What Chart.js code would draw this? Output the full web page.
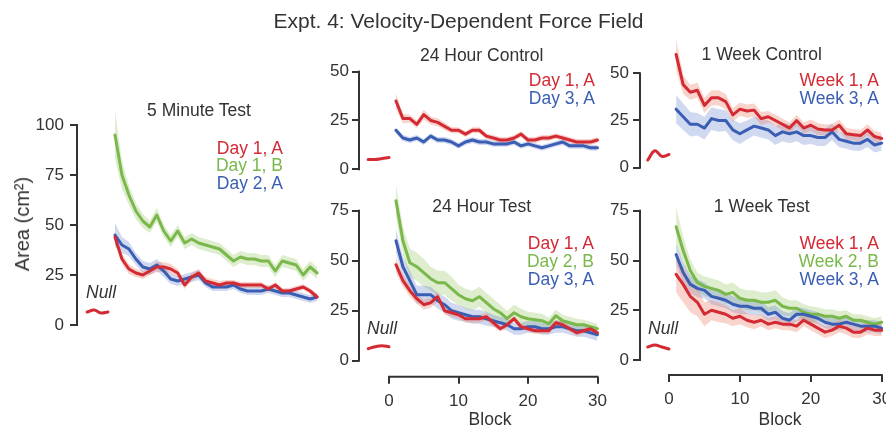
<!DOCTYPE html>
<html><head><meta charset="utf-8">
<script src="https://cdn.jsdelivr.net/npm/chart.js@4.4.1/dist/chart.umd.min.js"></script>
<style>
html,body{margin:0;padding:0;background:#fff;}
#wrap{position:relative;width:886px;height:433px;overflow:hidden;font-family:"Liberation Sans",Arial,Helvetica,sans-serif;color:#333;background:#fff;}
canvas{position:absolute;left:0;top:0;}
.t{position:absolute;white-space:nowrap;line-height:1;}
</style></head><body><div id="wrap"></div>
<script>
// ---------- data ----------
const blocks = [1,2,3,4,5,6,7,8,9,10,11,12,13,14,15,16,17,18,19,20,21,22,23,24,25,26,27,28,29,30];
const nullBlocks = [-3,-2,-1,0];
const xTicks = [0,10,20,30];
const yTicks100 = [0,25,50,75,100];
const yTicks50 = [0,25,50];
const yTicks75 = [0,25,50,75];

// 5 Minute Test
const fiveMinDay1A = [44,33,28,26,25,27,29,29,28,26,20,24,26,22,21,20,21,21,20,20,20,20,18,20,17,17,18,19,17,14];
const fiveMinDay1B = [95,75,65,57,52,49,55,47,42,47,41,43,41,40,39,38,35,32,34,33,33,32,32,27,32,31,30,25,29,26];
const fiveMinDay2A = [45,40,38,33,29,28,30,27,23,22,23,24,25,21,19,19,19,20,18,17,17,17,18,17,16,16,15,14,13,14];
const fiveMinNull = [6.5,7.5,6,6.5];
const sem5Day1A = [3,2.5,2.5,2,2,2,2.5,2.5,2.5,2,2,2,2,2,2,2,1.5,1.5,1.5,1.5,1.5,1.5,1.5,1.5,1.5,1.5,1.5,1.5,1.5,1.5];
const sem5Day1B = [12,7,5,4,3.5,3,3.5,3,3,3,3,3,3,3,3,3,3,3,3,3,3,3,3,3,3,3,3,3,3,3];
const sem5Day2A = [6,4,3.5,3,3,3,3,3,2.5,2.5,2.5,2.5,2.5,2,2,2,2,2,2,2,2,2,2,2,2,2,2,2,2,2];

// 24 Hour Control
const ctl24Day1A = [35,26,26,23,28,25,24,22,20,20,18,20,20,17,16,15,15,16,18,15,15,16,16,17,16,15,14,14,14,15];
const ctl24Day3A = [20,16,15,16,14,17,15,15,14,12,14,15,14,14,13,13,13,14,12,13,12,11,12,13,14,12,12,12,11,11];
const ctl24Null = [5,5,5.5,6];
const semCtl24Day1A = [4,2.5,2,2,2.5,2,2,2,1.5,1.5,1.5,1.5,1.5,1.5,1.5,1.5,1.5,1.5,1.5,1.5,1.5,1.5,1.5,1.5,1.5,1.5,1.5,1.5,1.5,1.5];
const semCtl24Day3A = [1.5,1.5,1.5,1.5,1.5,1.5,1.5,1.5,1.5,1.5,1.5,1.5,1.5,1.5,1.5,1.5,1.5,1.5,1.5,1.5,1.5,1.5,1.5,1.5,1.5,1.5,1.5,1.5,1.5,1.5];

// 24 Hour Test
const test24Day1A = [48,40,35,31,28,29,32,25,24,23,21,21,21,22,19,16,18,21,17,16,15,15,15,19,18,16,14,15,16,14];
const test24Day2B = [80,60,49,47,44,41,39,39,36,33,31,30,32,29,26,24,21,24,22,21,20.5,20,18.5,22.5,20,19,18,18,17,16];
const test24Day3A = [60,47,40,33,33,33,30,28,25,24,23,22,22,21,20,19,18,16,16,17,17,16,16,17,17,16,15,15,14,13];
const test24Null = [6,7,7.5,7];
const semTest24Day1A = [4,3,3,2.5,2.5,2.5,2.5,2,2,2,2,2,2,2,2,1.5,1.5,1.5,1.5,1.5,1.5,1.5,1.5,1.5,1.5,1.5,1.5,1.5,1.5,1.5];
const semTest24Day2B = [8,7,7,7,7,6,6,6,6,5,5,5,5,5,5,4,4,4,4,3.5,3.5,3.5,3,3,3,3,3,2.5,2.5,2.5];
const semTest24Day3A = [6,5,5,4.5,4.5,4,4,4,4,4,3.5,3.5,3.5,3.5,3,3,3,3,3,3,3,3,3,3,3,3,3,3,3,3];

// 1 Week Control
const ctlWkWeek1A = [60,44,40,41,33,37,37,35,28,31,30,30.5,26,27,25,23,21,25,21,22.5,20.5,20,20,22.5,18,17.5,17,20,16.5,15.5];
const ctlWkWeek3A = [31,27,23,23,21,26,25,25,20,18,20,22,21,20,17,19,18,19,17,17,16,16,19,15,14,13,13,15,12,13];
const ctlWkNull = [4,9,6,7];
const semCtlWkWeek1A = [8,5,4,4,4,4,4,4,3.5,3.5,3.5,3.5,3.5,3,3,3,3,3,3,3,3,3,3,3,3,3,3,3,3,3];
const semCtlWkWeek3A = [7.5,7,6.5,6,6,6,6,5.5,5.5,5.5,5,5,5,5,5,5,5,5,5,4.5,4.5,4.5,4.5,4,4,4,4,4,4,4];

// 1 Week Test
const testWkWeek1A = [43,38,32,29,23,25,24,23,21,22,20,19,20,18,19,18,18,17,20,18,16,14,15,17,16,14,14,16,15,15];
const testWkWeek2B = [67,55,45,39,37,36,35,33,34,31,30,30,29,29,30,27,26,26,24,23,23,22,22,21,22,20,20,19,18,19];
const testWkWeek3A = [53,44,38,36,35,32,31,30,28,27,27,26,26,23,24,21,20,23,23,22,21,19,18,18,19,18,17,17,17,16];
const testWkNull = [6.5,7.5,6.5,5.5];
const semTestWkWeek1A = [9,9,8,7,6,5,5,4.5,4,4,3.5,3.5,3,3,3,3,3,3,3,3,3,3,3,3,3,3,3,3,3,3];
const semTestWkWeek2B = [10,7,5.5,5,5,5,5,5,5,5,5,5,5,5,5,4.5,4,4,4,4,3.5,3.5,3.5,3.5,3,3,3,3,3,3];
const semTestWkWeek3A = [5,5,4.5,4.5,4,4,4,4,4,4,4,3.5,3.5,3.5,3.5,3.5,3.5,3.5,3,3,3,3,3,3,3,3,3,3,3,3];

// ---------- styles ----------
const FONT = '"Liberation Sans", Arial, Helvetica, sans-serif';
const TXT = '#333333';
const RED = '#d42a34', GREEN = '#7ab84b', BLUE = '#3a5eb3';
const RED_BAND = 'rgba(232,120,95,0.32)', GREEN_BAND = 'rgba(150,200,100,0.32)', BLUE_BAND = 'rgba(90,120,205,0.28)';

const panels = [
  { title:'5 Minute Test', tx:199, ty:110.5, lr:283, ly:148.5, ls:17.4,
    x0:108, bpx:6.97, xMin:-4.45, xMax:30.5, y0:325, upx:2, yMin:-2, yMax:108,
    yTicks:yTicks100, xAxis:false, tickPad:6, nullVals:fiveMinNull, nullLabel:[86,293],
    series:[
      {label:'Day 1, A', values:fiveMinDay1A, sem:sem5Day1A, color:RED, band:RED_BAND, order:0},
      {label:'Day 1, B', values:fiveMinDay1B, sem:sem5Day1B, color:GREEN, band:GREEN_BAND, order:2},
      {label:'Day 2, A', values:fiveMinDay2A, sem:sem5Day2A, color:BLUE, band:BLUE_BAND, order:1}]},
  { title:'24 Hour Control', tx:481.7, ty:55.3, lr:595, ly:80.8, ls:18,
    x0:389, bpx:6.95, xMin:-4.32, xMax:30.5, y0:169.3, upx:1.953, yMin:-2, yMax:50.5,
    yTicks:yTicks50, xAxis:false, tickPad:3, nullVals:ctl24Null, nullLabel:null,
    series:[
      {label:'Day 1, A', values:ctl24Day1A, sem:semCtl24Day1A, color:RED, band:RED_BAND, order:0},
      {label:'Day 3, A', values:ctl24Day3A, sem:semCtl24Day3A, color:BLUE, band:BLUE_BAND, order:1}]},
  { title:'24 Hour Test', tx:481.7, ty:206.7, lr:594, ly:244, ls:17.7,
    x0:389, bpx:6.95, xMin:-4.32, xMax:30.5, y0:360.7, upx:2, yMin:-8, yMax:90,
    yTicks:yTicks75, xAxis:true, tickPad:3, nullVals:test24Null, nullLabel:[367,328.3], blockX:490,
    series:[
      {label:'Day 1, A', values:test24Day1A, sem:semTest24Day1A, color:RED, band:RED_BAND, order:0},
      {label:'Day 2, B', values:test24Day2B, sem:semTest24Day2B, color:GREEN, band:GREEN_BAND, order:2},
      {label:'Day 3, A', values:test24Day3A, sem:semTest24Day3A, color:BLUE, band:BLUE_BAND, order:1}]},
  { title:'1 Week Control', tx:761.7, ty:55, lr:879, ly:80.8, ls:17.5,
    x0:669, bpx:7.09, xMin:-4.09, xMax:30.6, y0:167.7, upx:1.888, yMin:-2, yMax:68,
    yTicks:yTicks50, xAxis:false, tickPad:4, nullVals:ctlWkNull, nullLabel:null,
    series:[
      {label:'Week 1, A', values:ctlWkWeek1A, sem:semCtlWkWeek1A, color:RED, band:RED_BAND, order:0},
      {label:'Week 3, A', values:ctlWkWeek3A, sem:semCtlWkWeek3A, color:BLUE, band:BLUE_BAND, order:1}]},
  { title:'1 Week Test', tx:761.7, ty:206.7, lr:879, ly:244, ls:17.7,
    x0:669, bpx:7.09, xMin:-4.09, xMax:30.6, y0:360, upx:1.99, yMin:-7.54, yMax:80,
    yTicks:yTicks75, xAxis:true, tickPad:4, nullVals:testWkNull, nullLabel:[648,328.7], blockX:780,
    series:[
      {label:'Week 1, A', values:testWkWeek1A, sem:semTestWkWeek1A, color:RED, band:RED_BAND, order:0},
      {label:'Week 2, B', values:testWkWeek2B, sem:semTestWkWeek2B, color:GREEN, band:GREEN_BAND, order:2},
      {label:'Week 3, A', values:testWkWeek3A, sem:semTestWkWeek3A, color:BLUE, band:BLUE_BAND, order:1}]}
];

const wrap = document.getElementById('wrap');

function addText(str, x, y, size, opts) {
  opts = opts || {};
  const d = document.createElement('div');
  d.className = 't';
  d.textContent = str;
  d.style.fontSize = size + 'px';
  d.style.color = opts.color || TXT;
  if (opts.italic) d.style.fontStyle = 'italic';
  d.style.top = (y - 0.4885 * size) + 'px';
  const a = opts.anchor || 'left';
  if (a === 'left') d.style.left = x + 'px';
  else if (a === 'right') d.style.right = (886 - x) + 'px';
  else { d.style.left = x + 'px'; d.style.transform = 'translateX(-50%)'; }
  wrap.appendChild(d);
  return d;
}

const axisLines = {
  id: 'axisLines',
  afterDraw(chart) {
    const ctx = chart.ctx, ca = chart.chartArea, x = chart.scales.x, y = chart.scales.y;
    ctx.save();
    ctx.strokeStyle = TXT; ctx.lineWidth = 2;
    const yt = y.ticks;
    const ya = y.getPixelForValue(yt[0].value), yb = y.getPixelForValue(yt[yt.length - 1].value);
    ctx.beginPath(); ctx.moveTo(ca.left, ya + 1); ctx.lineTo(ca.left, yb - 1); ctx.stroke();
    if (x.options.display) {
      const xt = x.ticks;
      const xa = x.getPixelForValue(xt[0].value), xb = x.getPixelForValue(xt[xt.length - 1].value);
      ctx.beginPath(); ctx.moveTo(xa - 1, ca.bottom); ctx.lineTo(xb + 1, ca.bottom); ctx.stroke();
    }
    ctx.restore();
  }
};

function buildPanel(p) {
  const cv = document.createElement('canvas');
  cv.width = 886; cv.height = 433;
  wrap.appendChild(cv);
  const L = p.x0 + p.xMin * p.bpx, R = p.x0 + p.xMax * p.bpx;
  const T = p.y0 - p.yMax * p.upx, B = p.y0 - p.yMin * p.upx;
  const ds = [];
  p.series.forEach(s => ds.push({
    label: s.label, data: blocks.map((b, i) => ({x: b, y: s.values[i]})),
    borderColor: s.color, borderWidth: 3, pointRadius: 0, fill: false, tension: 0,
    borderJoinStyle: 'round', borderCapStyle: 'round', order: s.order
  }));
  ds.push({
    label: 'Null', data: nullBlocks.map((b, i) => ({x: b, y: p.nullVals[i]})),
    borderColor: RED, borderWidth: 3, pointRadius: 0, fill: false, tension: 0.4,
    borderJoinStyle: 'round', borderCapStyle: 'round', order: 0
  });
  p.series.forEach(s => {
    ds.push({
      data: blocks.map((b, i) => ({x: b, y: s.values[i] + s.sem[i]})),
      borderColor: 'rgba(0,0,0,0)', borderWidth: 0, pointRadius: 0,
      backgroundColor: s.band, fill: '+1', order: 10 + s.order
    });
    ds.push({
      data: blocks.map((b, i) => ({x: b, y: s.values[i] - s.sem[i]})),
      borderColor: 'rgba(0,0,0,0)', borderWidth: 0, pointRadius: 0,
      fill: false, order: 10 + s.order
    });
  });
  const gridOpt = {drawOnChartArea: false, drawTicks: true, tickLength: 7, color: TXT, lineWidth: 2};
  new Chart(cv, {
    type: 'line',
    data: {datasets: ds},
    options: {
      responsive: false, animation: false, devicePixelRatio: 1, events: [],
      layout: {autoPadding: false, padding: {left: 0, top: T, right: 886 - R, bottom: p.xAxis ? 0 : 433 - B}},
      plugins: {legend: {display: false}, tooltip: {enabled: false}, title: {display: false}},
      scales: {
        x: {
          type: 'linear', min: p.xMin, max: p.xMax, display: p.xAxis, position: 'bottom',
          afterBuildTicks: s => { s.ticks = xTicks.map(v => ({value: v})); },
          afterFit: s => { if (p.xAxis) s.height = 433 - B; else s.height = 0; s.paddingLeft = 0; s.paddingRight = 0; },
          grid: gridOpt, border: {display: false},
          ticks: {color: TXT, font: {family: FONT, size: 17}, padding: 7, maxRotation: 0, minRotation: 0, autoSkip: false}
        },
        y: {
          type: 'linear', min: p.yMin, max: p.yMax,
          afterBuildTicks: s => { s.ticks = p.yTicks.map(v => ({value: v})); },
          afterFit: s => { s.width = L; s.paddingTop = 0; s.paddingBottom = 0; },
          grid: gridOpt, border: {display: false},
          ticks: {color: TXT, font: {family: FONT, size: 17}, padding: p.tickPad, autoSkip: false}
        }
      }
    },
    plugins: [axisLines]
  });
}

panels.forEach(buildPanel);

// ---------- texts ----------
addText('Expt. 4: Velocity-Dependent Force Field', 458.5, 20, 21, {anchor: 'center'});
panels.forEach(p => {
  addText(p.title, p.tx, p.ty, 17.5, {anchor: 'center'});
  p.series.forEach((s, i) => addText(s.label, p.lr, p.ly + i * p.ls, 17.5, {anchor: 'right', color: s.color}));
  if (p.nullLabel) addText('Null', p.nullLabel[0], p.nullLabel[1], 17.5, {italic: true});
  if (p.xAxis) addText('Block', p.blockX, 420, 17.5, {anchor: 'center'});
});
const yl = document.createElement('div');
yl.className = 't';
yl.textContent = 'Area (cm²)';
yl.style.fontSize = '20px';
yl.style.left = '22px'; yl.style.top = '224px';
yl.style.transform = 'translate(-50%,-50%) rotate(-90deg)';
wrap.appendChild(yl);
</script>
</body></html>
